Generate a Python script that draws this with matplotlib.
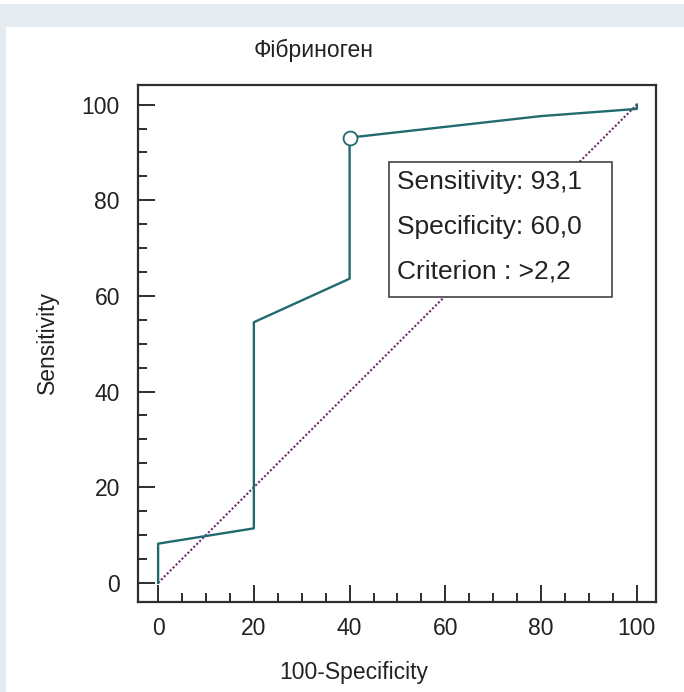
import matplotlib.pyplot as plt
from matplotlib.patches import Rectangle
from matplotlib.ticker import MultipleLocator

# ROC curve
fpr = [0, 0, 20, 20, 40, 40, 80, 100, 100]
tpr = [0, 8.2, 11.4, 54.5, 63.6, 93.1, 97.6, 99.1, 100]
diag = [0, 100]
best_point = (40, 93.1)
box_lines = ['Sensitivity: 93,1', 'Specificity: 60,0', 'Criterion : >2,2']
title = 'Фібриноген'

plt.rcParams['font.family'] = ['Liberation Sans', 'DejaVu Sans']
W, H = 684, 692
fig = plt.figure(figsize=(W / 100, H / 100), dpi=100)
fig.patch.set_facecolor('white')

# light band at top/left, white panel
fig.add_artist(Rectangle((0, 1 - 27 / H), 1, 23 / H, transform=fig.transFigure,
                         facecolor='#e4ecef', edgecolor='none', zorder=0))
fig.add_artist(Rectangle((0, 0), 6 / W, 1 - 4 / H, transform=fig.transFigure,
                         facecolor='#e4ecef', edgecolor='none', zorder=0))

ax = fig.add_axes([138 / W, 1 - 602 / H, (656 - 138) / W, (602 - 85) / H])
ax.plot(diag, diag, color='#6e2a6c', lw=1.5, ls=(0, (1, 1)), zorder=2)
ax.plot(fpr, tpr, color='#216a6e', lw=1.7, zorder=3)
ax.plot(*best_point, 'o', ms=10, mfc='white', mec='#216a6e', mew=1.3, zorder=4)

ax.set_xlim(-4.2, 104)
ax.set_ylim(-4, 104.1)
ax.xaxis.set_major_locator(MultipleLocator(20))
ax.yaxis.set_major_locator(MultipleLocator(20))
ax.xaxis.set_minor_locator(MultipleLocator(5))
ax.yaxis.set_minor_locator(MultipleLocator(5))
ax.tick_params(which='both', direction='in', colors='#2e2e2e', labelcolor='#222222',
               width=1.4)
ax.tick_params(which='major', length=12, labelsize=16.5)
ax.tick_params(axis='y', which='major', pad=13)
ax.tick_params(axis='x', which='major', pad=11)
ax.tick_params(which='minor', length=6.5)
for s in ax.spines.values():
    s.set_color('#2e2e2e')
    s.set_linewidth(1.6)

fig.text(314 / W, 1 - 50 / H, title, ha='center', va='center', fontsize=16.5, color='#222222')
fig.text(354 / W, 1 - 672 / H, '100-Specificity', ha='center', va='center',
         fontsize=16.5, color='#222222')
fig.text(47 / W, 1 - 343 / H, 'Sensitivity', ha='center', va='center', rotation=90,
         fontsize=16.5, color='#222222')

# info box
fig.add_artist(Rectangle((389 / W, 1 - 297 / H), (612 - 389) / W, (297 - 162) / H,
                         transform=fig.transFigure, facecolor='white',
                         edgecolor='#333333', lw=1.1, zorder=5))
for i, line in enumerate(box_lines):
    fig.text(397 / W, 1 - (182 + 45 * i) / H, line, ha='left', va='center',
             fontsize=19, color='#222222', zorder=6)

fig.savefig('out.png', dpi=100)
